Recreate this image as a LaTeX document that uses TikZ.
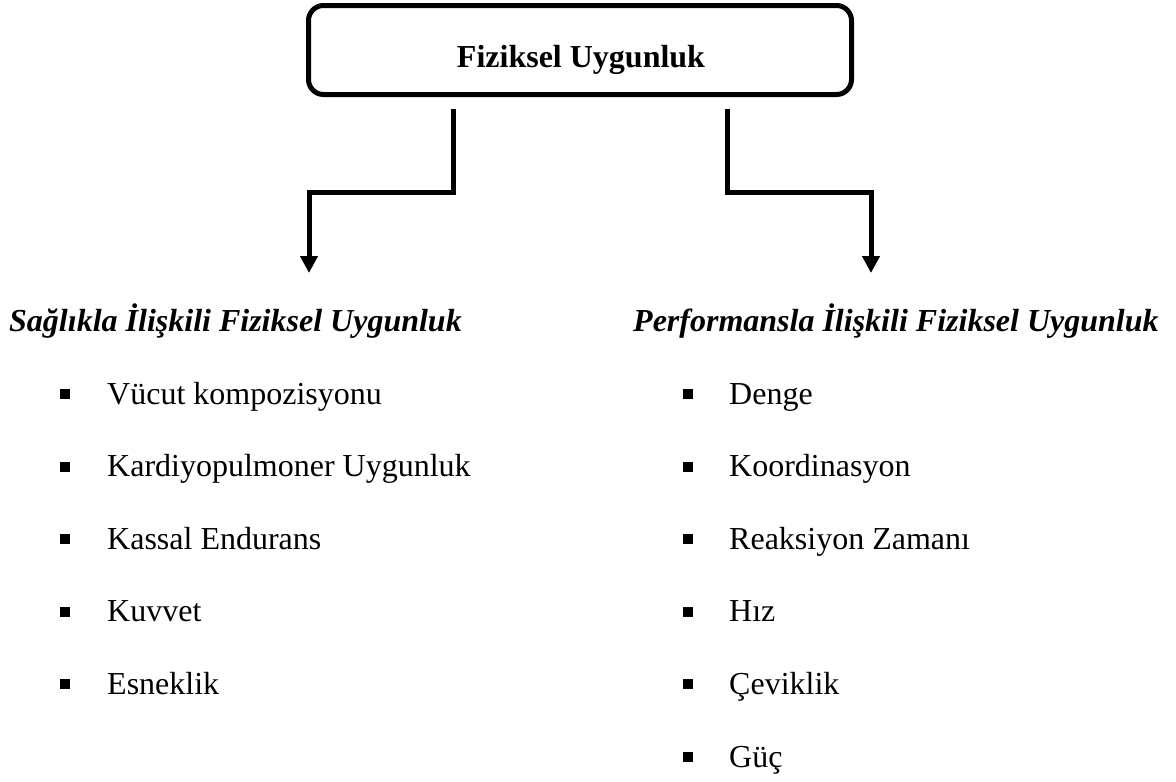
\documentclass[tikz,border=0pt]{standalone}
\usepackage{fontspec}
\setmainfont{Liberation Serif}
\usetikzlibrary{arrows.meta}
\begin{document}
\begin{tikzpicture}[x=1pt,y=-1pt,
  every node/.style={font=\fontsize{32}{38}\selectfont},
  titlebox/.style={draw, line width=5pt, rounded corners=15pt, minimum width=543pt, minimum height=89pt, inner sep=0pt},
  txt/.style={inner sep=0pt, anchor=base west},
  head/.style={txt, font=\fontsize{32}{38}\selectfont\bfseries\itshape},
  bul/.style={fill=black, inner sep=0pt, minimum size=10pt},
  conn/.style={line width=5pt, -{Triangle[width=17pt,length=17pt]}}]
\useasboundingbox (0,0) rectangle (1176,782);
% title
\node[titlebox] (title) at (580,50) {};
\node[inner sep=0pt, anchor=base, font=\fontsize{32}{38}\selectfont\bfseries] (titletext) at (581,67) {Fiziksel Uygunluk};
% headings
\node[head] (lh) at (9,331) {Sağlıkla İlişkili Fiziksel Uygunluk};
\node[head] (rh) at (633,331) {Performansla İlişkili Fiziksel Uygunluk};
% connectors
\coordinate (ls) at (453,109);
\coordinate (lt) at (309,273);
\coordinate (rs) at (727,109);
\coordinate (rt) at (871,273);
\draw[conn] (ls) -- (453,192) -- (309,192) -- (lt);
\draw[conn] (rs) -- (727,192) -- (871,192) -- (rt);
% left items
\foreach \t [count=\i from 0] in {Vücut kompozisyonu, Kardiyopulmoner Uygunluk, Kassal Endurans, Kuvvet, Esneklik}{
  \pgfmathsetmacro{\yb}{404+72.6*\i}
  \node[bul] (lb\i) at (65,\yb-10) {};
  \node[txt] (li\i) at (107,\yb) {\t};
}
% right items
\foreach \t [count=\i from 0] in {Denge, Koordinasyon, Reaksiyon Zamanı, Hız, Çeviklik, Güç}{
  \pgfmathsetmacro{\yb}{404+72.6*\i}
  \node[bul] (rb\i) at (688,\yb-10) {};
  \node[txt] (ri\i) at (729,\yb) {\t};
}
\end{tikzpicture}
\end{document}
